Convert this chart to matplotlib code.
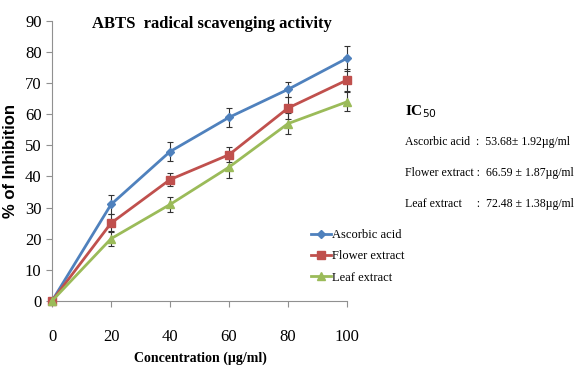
import matplotlib.pyplot as plt
from matplotlib.lines import Line2D

# ==============================
# Data
# ==============================

conc = [0, 20, 40, 60, 80, 100]

ascorbic = [0, 31, 48, 59, 68, 78]
ascorbic_err = [0, 3, 3, 3, 2.5, 4]

flower = [0, 25, 39, 47, 62, 71]
flower_err = [0, 3, 2, 2.5, 3.5, 3.5]

leaf = [0, 20, 31, 43, 57, 64]
leaf_err = [0, 2.5, 2.5, 3.5, 3.5, 3]

series_names = ['Ascorbic acid', 'Flower extract', 'Leaf extract']
ic50_lines = ['Ascorbic acid  :  53.68\u00b1 1.92\u00b5g/ml',
              'Flower extract :  66.59 \u00b1 1.87\u00b5g/ml',
              'Leaf extract     :  72.48 \u00b1 1.38\u00b5g/ml']

colors = ['#4F81BD', '#C0504D', '#9BBB59']
markers = ['D', 's', '^']
msizes = [4, 6, 6]

serif = 'Liberation Serif'

# ==============================
# Plot
# ==============================

fig = plt.figure(figsize=(5.74, 3.67), dpi=100)
ax = fig.add_axes([0.0906, 0.18, 0.514, 0.763])

handles = []
for y, err, name, c, m, ms in zip([ascorbic, flower, leaf],
                                  [ascorbic_err, flower_err, leaf_err],
                                  series_names, colors, markers, msizes):
    ax.errorbar(conc, y, yerr=err, color=c, marker=m, markersize=ms,
                linewidth=2, ecolor='#333333', elinewidth=0.8, capsize=2.5,
                capthick=0.8, zorder=3, clip_on=False)
    handles.append(Line2D([], [], color=c, marker=m, markersize=ms,
                          linewidth=2, label=name))

ax.set_xlim(0, 100)
ax.set_ylim(0, 90)
ax.set_xticks(conc)
ax.set_yticks(range(0, 91, 10))
for sp in ['top', 'right']:
    ax.spines[sp].set_visible(False)
for sp in ['left', 'bottom']:
    ax.spines[sp].set_color('#909090')
ax.tick_params(axis='both', colors='#909090', length=4, direction='out')
ax.tick_params(axis='x', pad=16)
for lbl in ax.get_xticklabels() + ax.get_yticklabels():
    lbl.set_fontfamily(serif)
    lbl.set_fontsize(12)
    lbl.set_color('black')

ax.set_ylabel('% of Inhibition', fontfamily='Liberation Sans', fontweight='bold',
              fontsize=12, labelpad=5)
fig.text(0.35, 0.015, 'Concentration (\u00b5g/ml)', fontfamily=serif,
         fontweight='bold', fontsize=10, ha='center')
fig.text(0.37, 0.925, 'ABTS  radical scavenging activity', fontfamily=serif,
         fontweight='bold', fontsize=12, ha='center')

ax.legend(handles=handles, loc='upper left', bbox_to_anchor=(0.86, 0.275),
          frameon=False, prop={'family': serif, 'size': 9}, handlelength=1.6,
          handletextpad=0.1, labelspacing=0.75, borderaxespad=0)

# IC50 annotation
fig.text(0.705, 0.685, 'IC$_{50}$', fontfamily=serif, fontweight='bold', fontsize=11)
for i, t in enumerate(ic50_lines):
    fig.text(0.705, 0.605 - i * 0.085, t, fontfamily=serif, fontsize=8.5)

fig.savefig('out.png', dpi=100)
